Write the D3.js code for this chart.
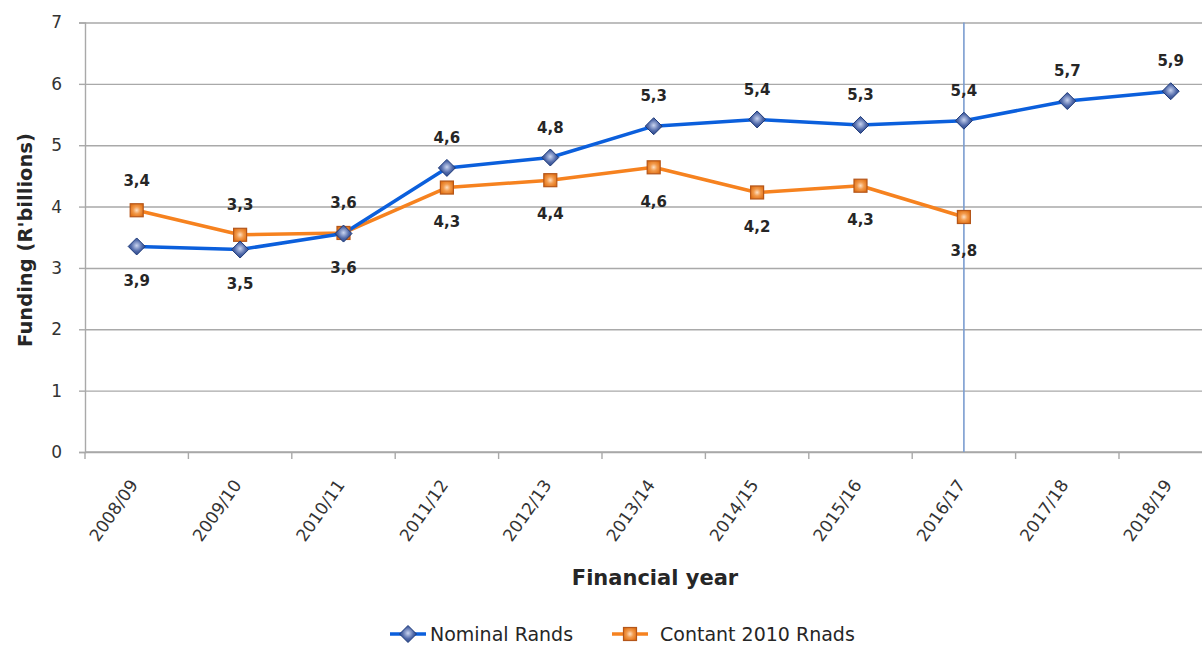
<!DOCTYPE html>
<html>
<head>
<meta charset="utf-8">
<script src="https://cdn.jsdelivr.net/npm/d3@7"></script>
<style>
  html, body { margin: 0; padding: 0; background: #fff; }
  svg { display: block; }
  text { font-family: "DejaVu Sans", sans-serif; }
</style>
</head>
<body>
<svg id="chart" width="1202" height="646"></svg>
<script>
// Funding by financial year, in R billions
const categories = ["2008/09", "2009/10", "2010/11", "2011/12", "2012/13", "2013/14",
                    "2014/15", "2015/16", "2016/17", "2017/18", "2018/19"];
const nominalRands = [3.35, 3.30, 3.56, 4.63, 4.80, 5.31, 5.42, 5.33, 5.40, 5.72, 5.88];
const constant2010Rands = [3.94, 3.54, 3.57, 4.31, 4.43, 4.64, 4.23, 4.34, 3.83, null, null];
const yTicks = [0, 1, 2, 3, 4, 5, 6, 7];
const dividerYear = "2016/17";
const seriesNames = ["Nominal Rands", "Contant 2010 Rnads"];

const svg = d3.select("#chart");
const plotLeft = 85, plotBottom = 452, plotTop = 22.5, step = 103.4;
const plotRight = plotLeft + step * categories.length;

const x = d3.scaleBand().domain(categories).range([plotLeft, plotRight]).paddingInner(0).paddingOuter(0);
const cx = c => x(c) + x.bandwidth() / 2;
const y = d3.scaleLinear().domain([0, 7]).range([plotBottom, plotTop]);

const fmt = d3.formatLocale({ decimal: ",", thousands: " ", grouping: [3], currency: ["R", ""] }).format(".1f");

// gradients for the glossy markers
const defs = svg.append("defs");
const gDia = defs.append("radialGradient").attr("id", "diaFill").attr("cx", "50%").attr("cy", "45%").attr("r", "60%");
gDia.append("stop").attr("offset", "0%").attr("stop-color", "#c9d4f0");
gDia.append("stop").attr("offset", "55%").attr("stop-color", "#4f68a8");
gDia.append("stop").attr("offset", "100%").attr("stop-color", "#243f82");
const gSq = defs.append("radialGradient").attr("id", "sqFill").attr("cx", "50%").attr("cy", "50%").attr("r", "60%");
gSq.append("stop").attr("offset", "0%").attr("stop-color", "#fde0c4");
gSq.append("stop").attr("offset", "45%").attr("stop-color", "#f29a4c");
gSq.append("stop").attr("offset", "100%").attr("stop-color", "#e06f12");

// horizontal gridlines
svg.append("g")
  .attr("transform", `translate(${plotLeft},0)`)
  .call(d3.axisLeft(y).tickValues(yTicks).tickSize(-(plotRight - plotLeft)).tickFormat(""))
  .call(g => g.select(".domain").remove())
  .call(g => g.selectAll("line").attr("stroke", "#a9a9a9").attr("stroke-width", 1.4));

// y axis
svg.append("g")
  .attr("transform", `translate(${plotLeft},0)`)
  .call(d3.axisLeft(y).tickValues(yTicks).tickSize(6).tickPadding(17).tickFormat(d3.format("d")))
  .call(g => g.select(".domain").attr("stroke", "#a9a9a9").attr("stroke-width", 1.4))
  .call(g => g.selectAll("line").attr("stroke", "#a9a9a9").attr("stroke-width", 1.4))
  .call(g => g.selectAll("text").attr("fill", "#333").style("font-size", "17px")
                 .style("font-family", "DejaVu Sans, sans-serif"));

// x axis: baseline with ticks on category boundaries
const xg = svg.append("g");
xg.append("line").attr("x1", plotLeft).attr("x2", plotRight).attr("y1", y(0)).attr("y2", y(0))
  .attr("stroke", "#a9a9a9").attr("stroke-width", 1.4);
xg.selectAll("line.tick").data(categories).join("line")
  .attr("class", "tick")
  .attr("x1", d => x(d)).attr("x2", d => x(d))
  .attr("y1", y(0)).attr("y2", y(0) + 7)
  .attr("stroke", "#a9a9a9").attr("stroke-width", 1.4);

// x tick labels, rotated
svg.append("g")
  .attr("transform", `translate(0,${y(0)})`)
  .call(d3.axisBottom(x).tickSize(0).tickPadding(0))
  .call(g => g.select(".domain").remove())
  .call(g => g.selectAll("text")
    .attr("fill", "#333")
    .style("font-size", "17px")
    .style("font-family", "DejaVu Sans, sans-serif")
    .attr("text-anchor", "end")
    .attr("y", 0).attr("dy", 0)
    .attr("transform", "translate(2,33) rotate(-55)"));

// divider line at the last actual year
svg.append("line")
  .attr("x1", cx(dividerYear)).attr("x2", cx(dividerYear))
  .attr("y1", y(7)).attr("y2", y(0))
  .attr("stroke", "#7b9dd0").attr("stroke-width", 1.6);

// lines
const nomPts = categories.map((c, i) => ({ c, v: nominalRands[i] }));
const conPts = categories.map((c, i) => ({ c, v: constant2010Rands[i] })).filter(d => d.v != null);
const line = d3.line().x(d => cx(d.c)).y(d => y(d.v));

svg.append("path").datum(conPts).attr("d", line)
  .attr("fill", "none").attr("stroke", "#f6821f").attr("stroke-width", 3.5).attr("stroke-linejoin", "round");
svg.append("path").datum(nomPts).attr("d", line)
  .attr("fill", "none").attr("stroke", "#0b5fdc").attr("stroke-width", 3.5).attr("stroke-linejoin", "round");

// markers
const diamond = (sel, s) => sel.append("path")
  .attr("d", `M0,${-s} L${s},0 L0,${s} L${-s},0 Z`)
  .attr("fill", "url(#diaFill)").attr("stroke", "#1d3a7a").attr("stroke-width", 1);
const square = (sel, s) => sel.append("rect")
  .attr("x", -s).attr("y", -s).attr("width", 2 * s).attr("height", 2 * s)
  .attr("fill", "url(#sqFill)").attr("stroke", "#b4561a").attr("stroke-width", 1.2);

svg.append("g").selectAll("g").data(conPts).join("g")
  .attr("transform", d => `translate(${cx(d.c)},${y(d.v)})`)
  .each(function () { square(d3.select(this), 6.5); });
svg.append("g").selectAll("g").data(nomPts).join("g")
  .attr("transform", d => `translate(${cx(d.c)},${y(d.v)})`)
  .each(function () { diamond(d3.select(this), 8.5); });

// value labels: nominal above the upper point, constant below the lower point
const labels = svg.append("g")
  .style("font-size", "15px").style("font-weight", "bold").attr("fill", "#262626")
  .attr("text-anchor", "middle");
categories.forEach((c, i) => {
  const n = nominalRands[i], k = constant2010Rands[i];
  const hi = k == null ? n : Math.max(n, k);
  labels.append("text").attr("x", cx(c)).attr("y", y(hi) - 30).attr("dy", "0.35em").text(fmt(n));
  if (k != null) {
    const lo = Math.min(n, k);
    labels.append("text").attr("x", cx(c)).attr("y", y(lo) + 34).attr("dy", "0.35em").text(fmt(k));
  }
});

// axis titles
svg.append("text")
  .attr("transform", `translate(25,${240}) rotate(-90)`)
  .attr("text-anchor", "middle").attr("dy", "0.35em")
  .style("font-size", "19.5px").style("font-weight", "bold").attr("fill", "#262626")
  .text("Funding (R'billions)");
svg.append("text")
  .attr("x", 655).attr("y", 578).attr("dy", "0.35em")
  .attr("text-anchor", "middle")
  .style("font-size", "21px").style("font-weight", "bold").attr("fill", "#262626")
  .text("Financial year");

// legend
const legend = svg.append("g").attr("transform", "translate(0,634)");
const legItems = [
  { name: seriesNames[0], x0: 390, gap: 40, color: "#0b5fdc", mark: g => diamond(g, 8.5) },
  { name: seriesNames[1], x0: 612, gap: 48, color: "#f6821f", mark: g => square(g, 6.5) }
];
legItems.forEach(it => {
  const g = legend.append("g").attr("transform", `translate(${it.x0},0)`);
  g.append("line").attr("x1", 0).attr("x2", 36).attr("y1", 0).attr("y2", 0)
    .attr("stroke", it.color).attr("stroke-width", 3.5);
  it.mark(g.append("g").attr("transform", "translate(18,0)"));
  g.append("text").attr("x", it.gap).attr("dy", "0.35em")
    .style("font-size", "19px").attr("fill", "#262626").text(it.name);
});
</script>
</body>
</html>
